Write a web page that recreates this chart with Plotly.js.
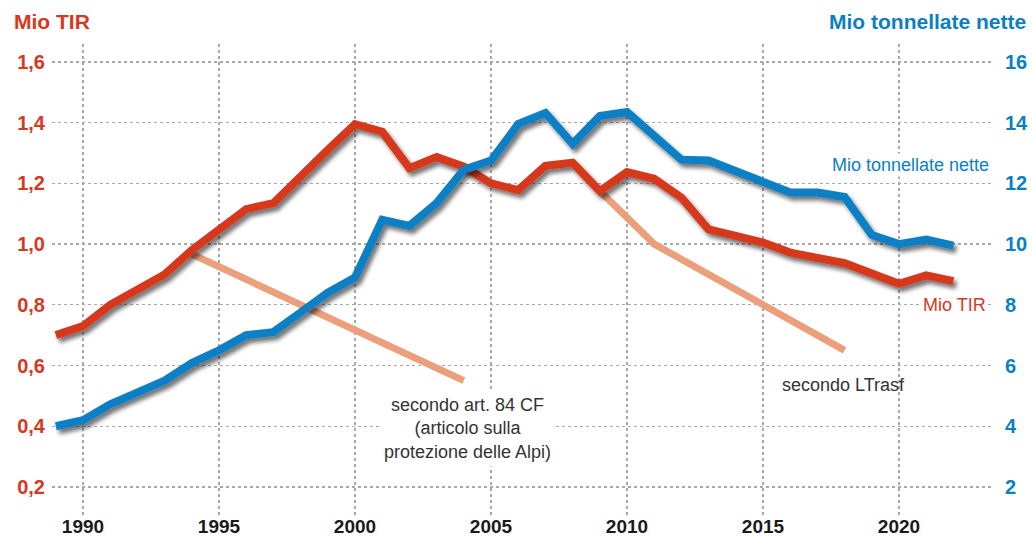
<!DOCTYPE html>
<html>
<head>
<meta charset="utf-8">
<script src="https://cdn.plot.ly/plotly-3.0.1.min.js"></script>
<style>
html,body{margin:0;padding:0;background:#fff;}
#chart{width:1032px;height:539px;}
.tracered path.js-line, .traceblue path.js-line { filter: url(#sh); }
</style>
</head>
<body>
<svg width="0" height="0" style="position:absolute">
  <defs>
    <filter id="sh" x="-10%" y="-20%" width="125%" height="150%">
      <feGaussianBlur in="SourceAlpha" stdDeviation="2"/>
      <feOffset dx="3" dy="4" result="b"/>
      <feComponentTransfer><feFuncA type="linear" slope="0.55"/></feComponentTransfer>
      <feMerge><feMergeNode/><feMergeNode in="SourceGraphic"/></feMerge>
    </filter>
  </defs>
</svg>
<div id="chart"></div>
<script>
// Years
const years = [1989,1990,1991,1992,1993,1994,1995,1996,1997,1998,1999,2000,2001,2002,2003,2004,2005,2006,2007,2008,2009,2010,2011,2012,2013,2014,2015,2016,2017,2018,2019,2020,2021,2022];
// Mio TIR (left axis)
const mioTIR = [0.70,0.73,0.80,0.85,0.90,0.98,1.045,1.115,1.135,1.225,1.31,1.395,1.37,1.25,1.287,1.255,1.20,1.178,1.258,1.268,1.175,1.237,1.215,1.153,1.048,1.027,1.005,0.972,0.955,0.937,0.903,0.869,0.897,0.878];
// Mio tonnellate nette (right axis)
const mioTonn = [4.0,4.2,4.72,5.1,5.5,6.08,6.5,7.0,7.1,7.75,8.4,8.9,10.8,10.6,11.35,12.45,12.75,13.95,14.32,13.3,14.22,14.35,13.55,12.78,12.75,12.4,12.0,11.7,11.7,11.55,10.3,10.0,10.15,9.95];
// Targets
const art84Years = [1994, 2004];
const art84Vals = [0.967, 0.55];
const ltrasfYears = [2009, 2011, 2018];
const ltrasfVals = [1.175, 1.0, 0.65];
// Tick labels
const leftTicks = [0.2,0.4,0.6,0.8,1.0,1.2,1.4,1.6];
const rightTicks = [2,4,6,8,10,12,14,16];

const RED = '#d6391e', BLUE = '#0b7fc4', ORANGE = '#eb9f7a';
const FONT = '"Liberation Sans", Arial, Helvetica, sans-serif';

const traces = [
  {x: art84Years, y: art84Vals, type:'scatter', mode:'lines', line:{color:ORANGE, width:7}, yaxis:'y', uid:'or1'},
  {x: ltrasfYears, y: ltrasfVals, type:'scatter', mode:'lines', line:{color:ORANGE, width:7}, yaxis:'y', uid:'or2'},
  {x: years, y: mioTIR, type:'scatter', mode:'lines', line:{color:RED, width:8}, yaxis:'y', uid:'red'},
  {x: years, y: mioTonn, type:'scatter', mode:'lines', line:{color:BLUE, width:8}, yaxis:'y2', uid:'blue'}
];

const layout = {
  width:1032, height:539,
  margin:{l:52, r:40, t:44, b:22, pad:0},
  paper_bgcolor:'#fff', plot_bgcolor:'#fff',
  showlegend:false,
  separators:',.',
  hovermode:false,
  font:{family:FONT},
  xaxis:{
    range:[1988.86, 2023.42], tick0:1990, dtick:5,
    showgrid:true, gridcolor:'#a8a8a8', griddash:'dot', gridwidth:1.3,
    zeroline:false, showline:false, ticks:'',
    tickfont:{family:FONT, size:19, color:'#1a1a1a', weight:'bold'},
    ticklabelstandoff:-4
  },
  yaxis:{
    range:[0.101, 1.659], tickvals:leftTicks, tickformat:'.1f',
    showgrid:true, gridcolor:'#a8a8a8', griddash:'dot', gridwidth:1.3,
    zeroline:false, showline:false, ticks:'',
    tickfont:{family:FONT, size:20, color:RED, weight:'bold'},
    ticklabelstandoff:6
  },
  yaxis2:{
    range:[1.01, 16.59], tickvals:rightTicks, overlaying:'y', side:'right',
    showgrid:false, zeroline:false, showline:false, ticks:'',
    tickfont:{family:FONT, size:20, color:BLUE, weight:'bold'},
    ticklabelstandoff:12
  },
  annotations:[
    {xref:'paper', yref:'paper', x:-0.0426, y:1.0486, xanchor:'left', yanchor:'middle', showarrow:false,
     text:'Mio TIR', font:{family:FONT, size:21, color:RED, weight:'bold'}},
    {xref:'paper', yref:'paper', x:1.0383, y:1.0486, xanchor:'right', yanchor:'middle', showarrow:false,
     text:'Mio tonnellate nette', font:{family:FONT, size:21, color:BLUE, weight:'bold'}},
    {xref:'paper', yref:'paper', x:0.9989, y:0.7442, xanchor:'right', yanchor:'middle', showarrow:false,
     text:'Mio tonnellate nette', bgcolor:'#fff', font:{family:FONT, size:18, color:BLUE}},
    {xref:'paper', yref:'paper', x:0.9957, y:0.4482, xanchor:'right', yanchor:'middle', showarrow:false,
     text:'Mio TIR', bgcolor:'#fff', font:{family:FONT, size:18, color:RED}},
    {xref:'paper', yref:'paper', x:0.842, y:0.279, xanchor:'center', yanchor:'middle', showarrow:false,
     text:'secondo LTrasf', font:{family:FONT, size:18, color:'#333'}},
    {xref:'paper', yref:'paper', x:0.4415, y:0.1871, xanchor:'center', yanchor:'middle', showarrow:false,
     align:'center', bgcolor:'#fff', borderpad:4,
     text:'secondo art. 84 CF<br>(articolo sulla<br>protezione delle Alpi)', font:{family:FONT, size:18, color:'#333'}}
  ]
};

Plotly.newPlot('chart', traces, layout, {displayModeBar:false, staticPlot:true});
</script>
</body>
</html>
